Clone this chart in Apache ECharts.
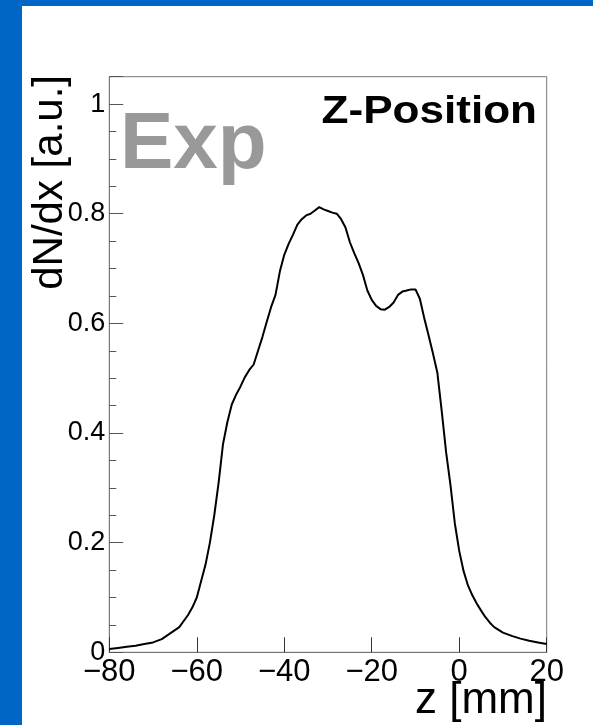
<!DOCTYPE html>
<html>
<head>
<meta charset="utf-8">
<script src="https://cdn.jsdelivr.net/npm/echarts@6/dist/echarts.min.js"></script>
<style>
html,body{margin:0;padding:0;background:#0066c6;width:593px;height:725px;overflow:hidden;}
#chart{position:absolute;left:22px;top:6px;width:571px;height:719px;}
</style>
</head>
<body>
<div id="chart"></div>
<script>
// z positions [mm]
const zValues = [-80,-78,-76,-74,-72,-70,-68,-66,-64,-62,-61,-60,-59,-58,-57,-56,-55,-54,-53,-52,-51,-50,-49,-48,-47,-46,-45,-44,-43,-42,-41,-40,-39,-38,-37,-36,-35,-34,-33,-32,-31,-30,-29,-28,-27,-26,-25,-24,-23,-22,-21,-20,-19,-18,-17,-16,-15,-14,-13,-12,-11,-10,-9,-8,-7,-6,-5,-4,-3,-2,-1,0,1,2,3,4,5,6,7,8,9,10,12,14,16,18,20];
// dN/dx [a.u.]
const dndxValues = [0.006,0.008,0.010,0.012,0.015,0.018,0.024,0.035,0.046,0.068,0.082,0.100,0.130,0.160,0.200,0.250,0.310,0.380,0.420,0.452,0.470,0.485,0.502,0.515,0.525,0.550,0.575,0.603,0.630,0.652,0.695,0.725,0.745,0.762,0.780,0.790,0.797,0.800,0.806,0.812,0.808,0.805,0.802,0.800,0.790,0.775,0.748,0.728,0.710,0.688,0.660,0.643,0.632,0.626,0.625,0.630,0.638,0.652,0.658,0.660,0.662,0.662,0.645,0.610,0.578,0.545,0.510,0.440,0.365,0.305,0.235,0.185,0.148,0.122,0.104,0.089,0.076,0.064,0.054,0.046,0.041,0.036,0.030,0.025,0.021,0.018,0.015];
const xTicks = {min:-80, max:20, interval:20};
const yTicks = {min:0, max:1.05, interval:0.2};
const xTitle = 'z [mm]';
const yTitle = 'dN/dx [a.u.]';
const labelExp = 'Exp';
const labelTitle = 'Z-Position';

const OX = 22, OY = 6;
const data = zValues.map((z,i)=>[z, dndxValues[i]]);
const chart = echarts.init(document.getElementById('chart'), null, {renderer:'canvas'});
const font = 'Liberation Sans, Arial, Helvetica, sans-serif';
chart.setOption({
  backgroundColor:'#ffffff',
  animation:false,
  grid:{left:109.3-OX, right:46.3, top:76.7-OY, bottom:72.7, show:true, borderColor:'#777', borderWidth:1, backgroundColor:'transparent'},
  xAxis:{
    type:'value', min:xTicks.min, max:xTicks.max, interval:xTicks.interval,
    axisLine:{show:true, onZero:false, lineStyle:{color:'#777', width:1}},
    axisTick:{show:true, inside:true, length:15, lineStyle:{color:'#333', width:1}},
    splitLine:{show:false},
    axisLabel:{show:true, margin:5, fontSize:31, fontFamily:font, color:'#000', formatter:v=>String(v).replace('-','\u2212')}
  },
  yAxis:{
    type:'value', min:yTicks.min, max:yTicks.max, interval:yTicks.interval,
    axisLine:{show:true, onZero:false, lineStyle:{color:'#777', width:1}},
    axisTick:{show:true, inside:true, length:14, lineStyle:{color:'#555', width:1}},
    minorTick:{show:true, splitNumber:4, length:7, lineStyle:{color:'#555', width:1}},
    splitLine:{show:false},
    axisLabel:{show:true, margin:4, fontSize:27, fontFamily:font, color:'#000', showMaxLabel:false}
  },
  series:[{
    type:'line', data:data, showSymbol:false, symbol:'none', smooth:false,
    lineStyle:{color:'#000', width:2}, z:5
  }],
  graphic:[
    {type:'text', x:120-OX, y:146-OY, style:{text:labelExp, fill:'#999', font:'bold 80px '+font, textAlign:'left', textVerticalAlign:'middle'}},
    {type:'text', x:537-OX, y:113-OY, scaleX:1.16, style:{text:labelTitle, fill:'#000', font:'bold 38px '+font, textAlign:'right', textVerticalAlign:'middle'}},
    {type:'text', x:547-OX, y:701-OY, style:{text:xTitle, fill:'#000', font:'44px '+font, textAlign:'right', textVerticalAlign:'middle'}},
    {type:'text', x:50-OX, y:75-OY, rotation:Math.PI/2, style:{text:yTitle, fill:'#000', font:'42px '+font, textAlign:'right', textVerticalAlign:'middle'}}
  ]
});
</script>
</body>
</html>
